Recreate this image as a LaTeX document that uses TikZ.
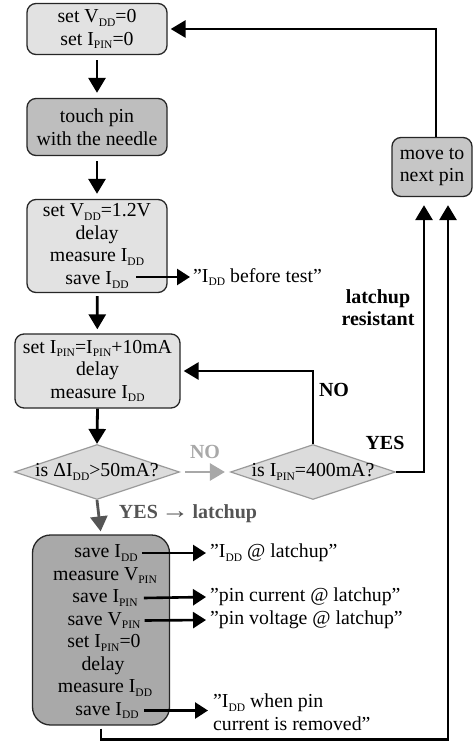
\documentclass[tikz,border=0pt]{standalone}
\usepackage{fontspec}
\usepackage{graphicx}
\setmainfont{Liberation Serif}
\usetikzlibrary{arrows.meta,shapes.geometric}
\newcommand{\sbs}[1]{\raisebox{-0.4ex}{\fontsize{11.5}{12}\selectfont #1}}
\newcommand{\dq}{\symbol{34}}
\definecolor{fillA}{HTML}{E2E2E2}
\definecolor{fillB}{HTML}{BEBEBE}
\definecolor{fillC}{HTML}{C6C6C6}
\definecolor{fillD}{HTML}{A9A9A9}
\definecolor{dfill}{HTML}{DCDCDC}
\definecolor{dline}{HTML}{9A9A9A}
\definecolor{nogray}{HTML}{A8A8A8}
\definecolor{yesgray}{HTML}{555555}
\begin{document}
\begin{tikzpicture}[x=1pt,y=-1pt,
  txt/.style={font=\fontsize{19.8}{22.5}\selectfont, inner sep=0pt},
  box/.style={txt, draw=black!85, line width=1.3pt, rounded corners=9pt, align=center},
  lbl/.style={font=\fontsize{20}{22}\selectfont\bfseries, inner sep=0pt, align=center},
  dia/.style={diamond, draw=dline, line width=1.2pt, fill=dfill, inner sep=0pt, minimum width=165pt, minimum height=55pt},
  arr/.style={line width=2.8pt, -{Triangle[length=15pt,width=17pt]}},
  sarr/.style={line width=2.6pt, -{Triangle[length=13pt,width=16pt]}}
]
\useasboundingbox (0,0) rectangle (474,746);

% boxes
\node[box, fill=fillA, minimum width=140pt, minimum height=51pt] (b1) at (97,29)
  {set V\sbs{DD}=0\\set I\sbs{PIN}=0};
\node[box, fill=fillB, minimum width=140pt, minimum height=57pt] (b2) at (97,127)
  {touch pin\\with the needle};
\node[box, fill=fillA, minimum width=140pt, minimum height=93pt] (b3) at (97,246)
  {set V\sbs{DD}=1.2V\\delay\\measure I\sbs{DD}\\save I\sbs{DD}};
\node[box, fill=fillA, minimum width=165pt, minimum height=74pt] (b4) at (97.5,371)
  {set I\sbs{PIN}=I\sbs{PIN}+10mA\\delay\\measure I\sbs{DD}};
\node[box, fill=fillC, minimum width=80pt, minimum height=59pt] (mv) at (432,167)
  {move to\\next pin};

% diamonds
\node[dia] (d1) at (97,472) {};
\node[txt] (d1t) at (97,472) {is ΔI\sbs{DD}>50mA?};
\node[dia] (d2) at (313,472) {};
\node[txt] (d2t) at (313,472) {is I\sbs{PIN}=400mA?};

% latchup box
\node[box, fill=fillD, rounded corners=18pt, minimum width=137pt, minimum height=190pt] (b5) at (101,630) {};
\node[txt] (l1) at (106,553) {save I\sbs{DD}};
\node[txt] (l2) at (105,575.5) {measure V\sbs{PIN}};
\node[txt] (l3) at (105,598) {save I\sbs{PIN}};
\node[txt] (l4) at (104,620.5) {save V\sbs{PIN}};
\node[txt] (l5) at (104,643) {set I\sbs{PIN}=0};
\node[txt] (l6) at (103,665.5) {delay};
\node[txt] (l7) at (105,688) {measure I\sbs{DD}};
\node[txt] (l8) at (107,710.5) {save I\sbs{DD}};

% output texts
\coordinate (s3) at (136,277);
\node[txt, anchor=west] (o1) at (193,277) {\dq I\sbs{DD} before test\dq};
\node[txt, anchor=west] (o2) at (210,553) {\dq I\sbs{DD} @ latchup\dq};
\node[txt, anchor=west] (o3) at (210,597) {\dq pin current @ latchup\dq};
\node[txt, anchor=west] (o4) at (210,620) {\dq pin voltage @ latchup\dq};
\node[txt, anchor=west, align=left] (o5) at (213,712) {\dq I\sbs{DD} when pin\\current is removed\dq};

% labels
\node[lbl, text=nogray] (no1) at (205,452) {NO};
\node[lbl] (no2) at (334,390) {NO};
\node[lbl] (yes1) at (385,443) {YES};
\node[lbl] (lr) at (378,308) {latchup\\resistant};
\node[lbl, text=yesgray] (yes2) at (188,514) {YES\,\scalebox{1.4}[1.2]{→}\,latchup};

% main flow
\draw[arr, shorten <=5pt, shorten >=5pt] (b1) -- (b2);
\draw[arr, shorten <=5pt, shorten >=5pt] (b2) -- (b3);
\draw[arr, shorten <=3pt, shorten >=4pt] (b3) -- (b4);
\draw[arr] (b4.south) -- (d1.north);
\draw[arr, draw=nogray, fill=nogray, shorten <=5pt, shorten >=5pt] (d1.east) -- (d2.west);
\draw[arr, draw=yesgray, fill=yesgray, shorten >=3pt] (d1.south) -- (b5.north);

% loops
\draw[arr, shorten >=3pt] (d2.north) |- (b4.east);
\draw[arr, shorten >=8pt] (d2.east) -| ([xshift=-8pt]mv.south);
\draw[arr, shorten <=3pt, shorten >=8pt] (b5.south) -- ++(0,14) -| ([xshift=16pt]mv.south);
\draw[arr, shorten >=3pt] ([xshift=4pt]mv.north) |- (b1.east);

% output arrows
\draw[sarr] (s3) -- ([xshift=-3pt]o1.west);
\draw[sarr] ([xshift=4pt]l1.east) -- ([xshift=-4pt]o2.west);
\draw[sarr] ([xshift=6pt]l3.east) -- ([xshift=-4pt]o3.west);
\draw[sarr] ([xshift=4pt]l4.east) -- ([xshift=-4pt]o4.west);
\draw[sarr] ([xshift=5pt]l8.east) -- ([xshift=-5pt]o5.west |- l8.east);
\end{tikzpicture}
\end{document}
